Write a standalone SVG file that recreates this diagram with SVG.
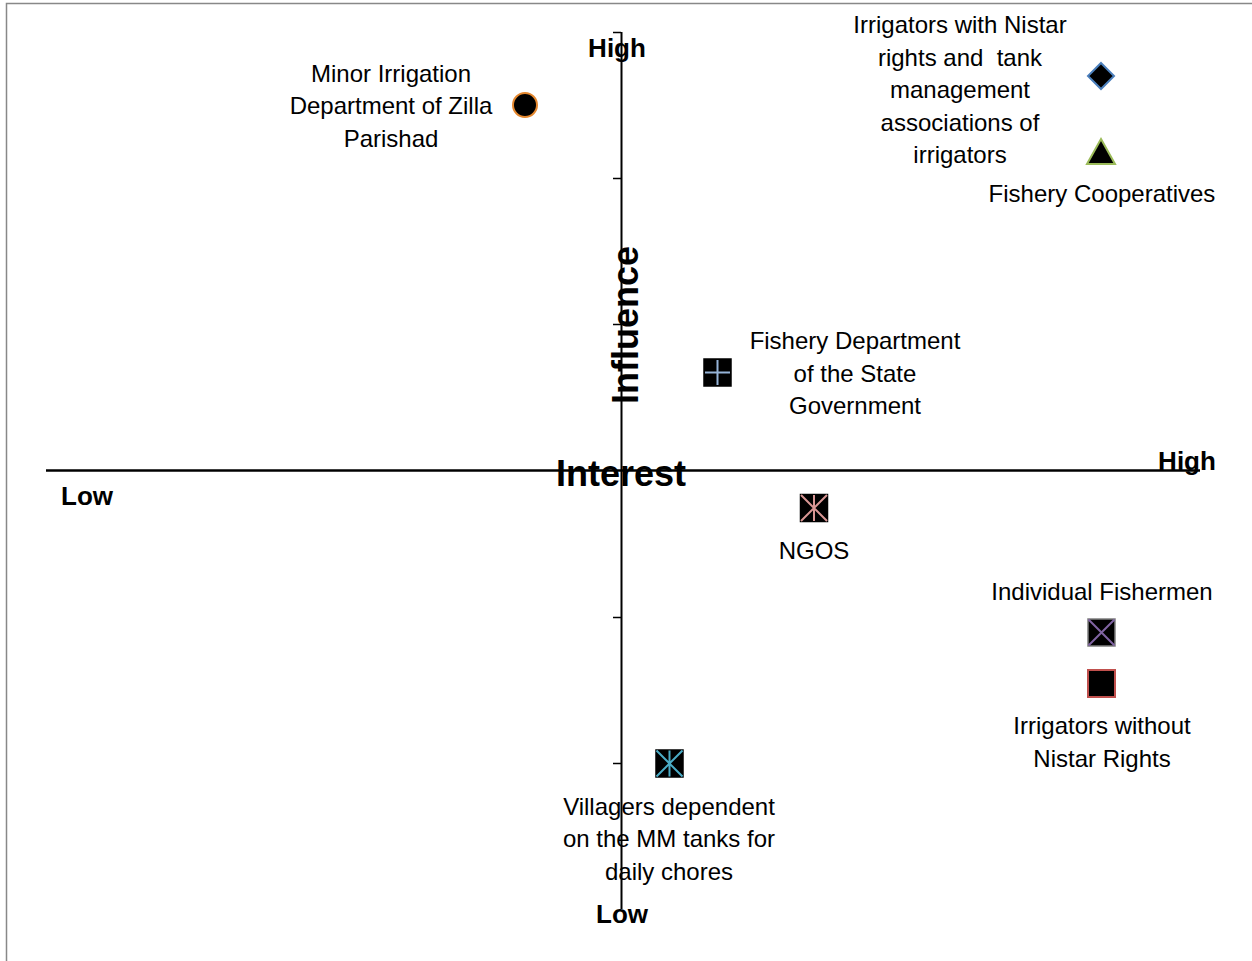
<svg xmlns="http://www.w3.org/2000/svg" width="1252" height="961" viewBox="0 0 1252 961">
<style>
.t{font-family:"Liberation Sans",Arial,sans-serif;font-size:24px;fill:#000;text-anchor:middle}
.b{font-family:"Liberation Sans",Arial,sans-serif;font-weight:bold;fill:#000;text-anchor:middle}
.ax{stroke:#000;fill:none}
.sq{fill:#000;stroke-width:1.5}
</style>
<rect x="0" y="0" width="1252" height="961" fill="#fff"/>
<rect x="6.5" y="3.5" width="1270" height="980" fill="none" stroke="#888" stroke-width="1.5"/>
<g id="axes">
<line class="ax" x1="621.5" y1="32" x2="621.5" y2="909" stroke-width="2"/>
<line class="ax" x1="46" y1="470.5" x2="1200" y2="470.5" stroke-width="2.5"/>
<path class="ax" stroke-width="1.5" d="M613 32.5H621M613 178.5H621M613 324.5H621M613 617.5H621M613 763.5H621"/>
</g>
<g id="labels">
<text class="b" x="617" y="57" font-size="26">High</text>
<text class="b" x="1187" y="470" font-size="26">High</text>
<text class="b" x="87" y="505" font-size="26">Low</text>
<text class="b" x="622" y="923" font-size="26">Low</text>
<text class="b" x="621" y="486" font-size="36">Interest</text>
<text class="b" font-size="36" transform="translate(638 325) rotate(-90)">Influence</text>
</g>
<g id="minor-irrigation">
<circle cx="525" cy="105" r="12" fill="#000" stroke="#e4872e" stroke-width="2"/>
<text class="t" x="391" y="82">Minor Irrigation</text>
<text class="t" x="391" y="114">Department of Zilla</text>
<text class="t" x="391" y="147">Parishad</text>
</g>
<g id="irrigators-nistar">
<polygon points="1101,63 1114,76 1101,89 1088,76" fill="#000" stroke="#4a7ebb" stroke-width="2"/>
<text class="t" x="960" y="33">Irrigators with Nistar</text>
<text class="t" x="960" y="66" xml:space="preserve">rights and  tank</text>
<text class="t" x="960" y="98">management</text>
<text class="t" x="960" y="131">associations of</text>
<text class="t" x="960" y="163">irrigators</text>
</g>
<g id="fishery-coop">
<polygon points="1101,139 1115,164 1087,164" fill="#000" stroke="#9bbb59" stroke-width="2"/>
<text class="t" x="1102" y="202">Fishery Cooperatives</text>
</g>
<g id="fishery-dept">
<rect class="sq" x="704" y="359" width="27" height="27" stroke="#000"/>
<path d="M717.5 360V385M705 372.5H730" stroke="#95b3d7" stroke-width="2"/>
<text class="t" x="855" y="349">Fishery Department</text>
<text class="t" x="855" y="382">of the State</text>
<text class="t" x="855" y="414">Government</text>
</g>
<g id="ngos">
<rect class="sq" x="800.5" y="494.5" width="27" height="27" stroke="#000"/>
<path d="M801 495L827 521M827 495L801 521M814 495V521" stroke="#d99694" stroke-width="2"/>
<text class="t" x="814" y="559">NGOS</text>
</g>
<g id="individual-fishermen">
<rect class="sq" x="1088" y="619" width="27" height="27" stroke="#7f7f7f"/>
<path d="M1088.5 619.5L1114.5 645.5M1114.5 619.5L1088.5 645.5" stroke="#8064a2" stroke-width="2"/>
<text class="t" x="1102" y="600">Individual Fishermen</text>
</g>
<g id="irrigators-without">
<rect x="1088" y="670" width="27" height="27" fill="#000" stroke="#c0504d" stroke-width="2"/>
<text class="t" x="1102" y="734">Irrigators without</text>
<text class="t" x="1102" y="767">Nistar Rights</text>
</g>
<g id="villagers">
<rect class="sq" x="656" y="750" width="27" height="27" stroke="#000"/>
<path d="M656.5 750.5L682.5 776.5M682.5 750.5L656.5 776.5M669.5 750.5V776.5" stroke="#4bacc6" stroke-width="2"/>
<text class="t" x="669" y="815">Villagers dependent</text>
<text class="t" x="669" y="847">on the MM tanks for</text>
<text class="t" x="669" y="880">daily chores</text>
</g>
</svg>
